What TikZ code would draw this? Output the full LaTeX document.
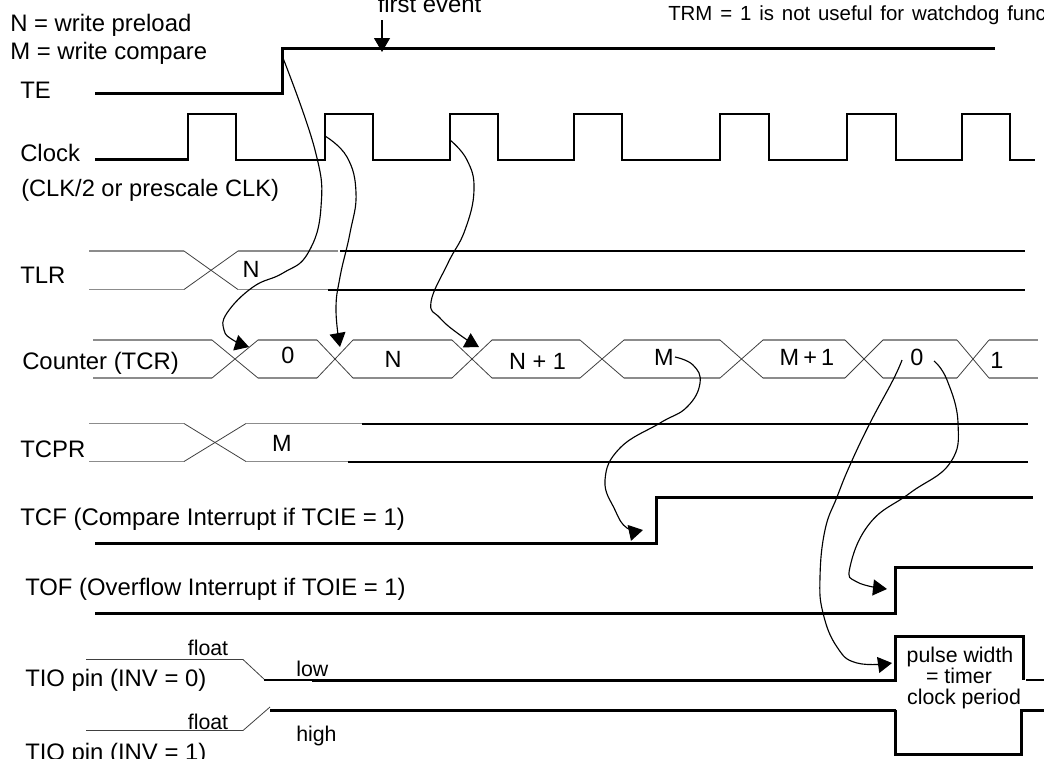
\documentclass[tikz,border=0pt]{standalone}
\usepackage{fontspec}
\setmainfont{Liberation Sans}
\usetikzlibrary{arrows.meta}
\tikzset{
  lab/.style={anchor=base west,inner sep=0pt,font=\fontsize{17.9pt}{20pt}\selectfont},
  wav/.style={anchor=base,inner sep=0pt,font=\fontsize{17.6pt}{20pt}\selectfont},
  small/.style={anchor=base,inner sep=0pt,font=\fontsize{16pt}{18pt}\selectfont},
  smallw/.style={anchor=base west,inner sep=0pt,font=\fontsize{16pt}{18pt}\selectfont},
  thickw/.style={line width=2.25pt,black,line cap=butt,line join=miter},
  midw/.style={line width=1.5pt,black,line join=miter},
  bus/.style={line width=0.8pt,black!45,line join=miter},
  cross/.style={line width=0.6pt,black!75},
  evt/.style={line width=0.85pt,black,-{Triangle[length=10.5pt,width=12pt]}},
}
\begin{document}
\begin{tikzpicture}[x=0.75pt,y=-0.75pt]
\useasboundingbox (0,0) rectangle (1044,758);
\clip (0,0) rectangle (1044,758);
% Labels
\node[lab] (n1) at (10,31) {N = write preload};
\node[lab] (n2) at (10,59) {M = write compare};
\node[lab] (te) at (20,98) {TE};
\node[lab] (clk) at (20,161.5) {Clock};
\node[lab,font=\fontsize{17.75pt}{20pt}\selectfont] (clk2) at (21,196.5) {(CLK/2 or prescale CLK)};
\node[lab] (tlr) at (20,283) {TLR};
\node[lab] (tcr) at (22,369) {Counter (TCR)};
\node[lab] (tcpr) at (20,457) {TCPR};
\node[lab,font=\fontsize{18pt}{20pt}\selectfont] (tcf) at (20,525) {TCF (Compare Interrupt if TCIE = 1)};
\node[lab] (tof) at (25,595) {TOF (Overflow Interrupt if TOIE = 1)};
\node[lab] (tio0) at (25,686) {TIO pin (INV = 0)};
\node[lab] (tio1) at (25,760) {TIO pin (INV = 1)};
\node[lab,anchor=base] (fe) at (429.5,12.5) {first event};
\node[anchor=base west,inner sep=0pt,font=\fontsize{15.3pt}{18pt}\selectfont] (trm) at (668,20) {\spaceskip=5.9pt\relax TRM = 1 is not useful for watchdog func};
% TE
\draw[thickw] (95,93.5) -- (282,93.5) -- (282,48.5) -- (995,48.5);
% Clock
\draw[thickw] (95,159.5) -- (188,159.5);
\draw[midw] (188,160.5) -- (188,114) -- (236,114) -- (236,159.5) -- (325,159.5) -- (325,114) -- (373,114) -- (373,159.5)
  -- (450,159.5) -- (450,114) -- (498,114) -- (498,159.5) -- (574,159.5) -- (574,114) -- (622,114) -- (622,159.5)
  -- (720,159.5) -- (720,114) -- (769,114) -- (769,159.5) -- (847,159.5) -- (847,114) -- (895.5,114) -- (895.5,159.5)
  -- (962,159.5) -- (962,114) -- (1010,114) -- (1010,159.5) -- (1035,159.5);
% TLR
\draw[bus] (89,251) -- (184,251);
\draw[bus] (89,289.5) -- (184,289.5);
\draw[cross] (184,251) -- (238,289.5);
\draw[cross] (184,289.5) -- (238,251);
\draw[bus] (238,251) -- (338,251);
\draw[bus] (238,289.5) -- (328,289.5);
\draw[midw] (340,251) -- (1025,251);
\draw[midw] (328,289.5) -- (1025,289.5);
\node[wav] (tlrn) at (251,277.5) {N};
% Counter
\draw[bus] (93,340) -- (212,340);
\draw[bus] (93,378) -- (212,378);
\foreach \a/\b/\c/\d in {212/258/258/317,317/353/353/452,452/492/492/580,580/624/624/720,720/763/763/845,845/883/883/957,957/989/989/1038}{
  \draw[cross] (\a,340) -- (\b,378);
  \draw[cross] (\a,378) -- (\b,340);
  \draw[bus] (\c,340) -- (\d,340);
  \draw[bus] (\c,378) -- (\d,378);
}
\node[wav] (c0) at (288,363) {0};
\node[wav] (c1) at (393,367) {N};
\node[wav] (c2) at (537.5,369) {N + 1};
\node[wav] (c3) at (664,365) {M};
\node[wav] (c4) at (807,365) {M\hspace{-1.8pt} + \hspace{-1.8pt}1};
\node[wav] (c5) at (917,365) {0};
\node[wav] (c6) at (997,368) {1};
% TCPR
\draw[bus] (89,423.5) -- (184,423.5);
\draw[bus] (89,461.5) -- (184,461.5);
\draw[cross] (184,423.5) -- (246,461.5);
\draw[cross] (184,461.5) -- (246,423.5);
\draw[bus] (246,423.5) -- (362,423.5);
\draw[bus] (246,461.5) -- (348,461.5);
\draw[midw] (362,423.5) -- (1028,423.5);
\draw[midw] (348,461.5) -- (1028,461.5);
\node[wav] (tcprm) at (282,451) {M};
% TCF, TOF
\draw[thickw] (95,543.5) -- (656,543.5) -- (656,497.5) -- (1033,497.5);
\draw[thickw] (95,613.5) -- (895,613.5) -- (895,567.5) -- (1033,567.5);
% TIO 0
\draw[cross] (86,659.5) -- (243,659.5) -- (265,680);
\draw[midw] (264,680) -- (312,680);
\draw[thickw] (312,680.5) -- (895,680.5) -- (895,636.5) -- (1023,636.5) -- (1023,680);
\draw[midw] (1026,680) -- (1044,680);
% TIO 1
\draw[cross] (86,730.5) -- (243,730.5) -- (270,707);
\draw[thickw] (270,710.5) -- (896,710.5);
\draw[thickw] (895,709.5) -- (895,754) -- (1021.5,754) -- (1021.5,710.5) -- (1044,710.5);
\node[small] (fl0) at (208,655) {float};
\node[small] (fl1) at (208,729) {float};
\node[smallw] (low) at (296,676) {low};
\node[smallw] (high) at (296,741) {high};
\node[small] (p1) at (960,662) {pulse width};
\node[small] (p2) at (959,683) {= timer};
\node[small] (p3) at (964,704) {clock period};
% Event arrows
\coordinate (e0a) at (382,20); \coordinate (e0b) at (382,52);
\draw[evt] (e0a) -- (e0b);
\coordinate (e1a) at (283,58); \coordinate (e1b) at (249,347);
\draw[evt] plot[smooth,tension=0.75] coordinates {(e1a) (315,150) (321,207) (308,253) (283,273) (253,287) (227,313) (224,330) (233,340) (e1b)};
\coordinate (e2a) at (325,136); \coordinate (e2b) at (340,347);
\draw[evt] plot[smooth,tension=0.75] coordinates {(e2a) (347,157) (356,193) (350,233) (340,277) (336,310) (e2b)};
\coordinate (e3a) at (450,140); \coordinate (e3b) at (479,347);
\draw[evt] plot[smooth,tension=0.75] coordinates {(e3a) (467,160) (474,190) (465,230) (448,263) (431,302) (440,318) (460,335) (e3b)};
\coordinate (e4a) at (675,357); \coordinate (e4b) at (643,530);
\draw[evt] plot[smooth,tension=0.75] coordinates {(e4a) (693,365) (700,383) (687,407) (660,423) (620,448) (605,480) (615,510) (627,528) (e4b)};
\coordinate (e5a) at (902,360); \coordinate (e5b) at (892,663);
\draw[evt] plot[smooth,tension=0.75] coordinates {(e5a) (893,380) (870,423) (850,465) (837,497) (825,530) (820,577) (823,613) (837,647) (857,663) (e5b)};
\coordinate (e6a) at (934,361); \coordinate (e6b) at (887,589);
\draw[evt] plot[smooth,tension=0.75] coordinates {(e6a) (947,380) (958,423) (950,463) (910,493) (870,523) (850,567) (857,582) (e6b)};
\end{tikzpicture}
\end{document}
